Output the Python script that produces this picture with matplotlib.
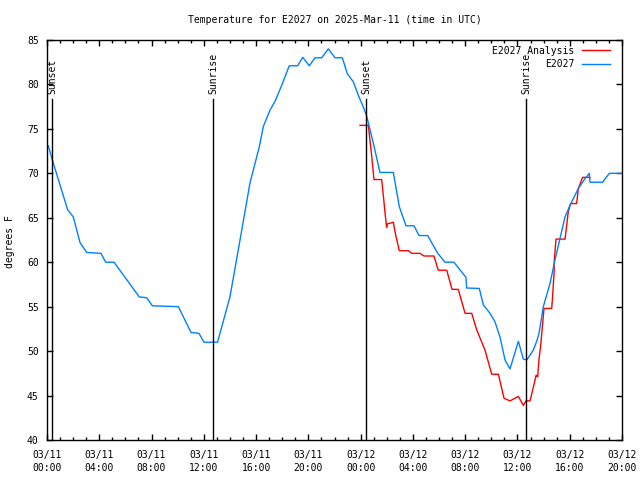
import matplotlib
matplotlib.use("Agg")
import matplotlib.pyplot as plt
import matplotlib.dates as mdates
from matplotlib.ticker import MultipleLocator
import datetime as dt
import numpy as np

# ---- data (hours since 2025-03-11 00:00 UTC) ----
obs_hours = [0.10, 0.41, 1.58, 2.01, 2.53, 3.04, 4.13, 4.49, 5.13, 7.06, 7.63, 8.06,
             10.05, 11.02, 11.63, 12.01, 13.05, 14.00, 14.77, 15.53, 16.25, 16.55,
             17.06, 17.45, 17.96, 18.54, 19.18, 19.57, 20.07, 20.51, 21.02, 21.53,
             22.04, 22.60, 22.98, 23.44, 23.82, 24.28, 24.46, 24.97, 25.48, 26.50,
             26.96, 27.47, 28.08, 28.47, 29.13, 29.90, 30.46, 31.14, 32.06, 32.11,
             33.08, 33.39, 33.90, 34.28, 34.66, 35.05, 35.43, 36.07, 36.45, 36.71,
             37.21, 37.47, 37.65, 37.98, 38.49, 38.87, 39.26, 39.64, 40.02, 40.66,
             41.17, 41.50, 41.55, 42.52, 43.03, 43.98]
obs_temps = [73.1, 71.5, 65.9, 65.1, 62.2, 61.1, 61.0, 60.0, 60.0, 56.1, 56.0, 55.1,
             55.0, 52.1, 52.0, 51.0, 51.0, 56.1, 62.5, 68.9, 73.0, 75.25,
             77.1, 78.1, 79.9, 82.1, 82.1, 83.05, 82.1, 83.0, 83.0, 84.0,
             83.0, 83.0, 81.2, 80.3, 78.8, 77.2, 76.45, 73.4, 70.1, 70.1,
             66.25, 64.1, 64.1, 63.0, 63.0, 61.0, 60.0, 60.0, 58.3, 57.1,
             57.05, 55.2, 54.25, 53.3, 51.6, 49.0, 48.0, 51.1, 49.1, 49.0,
             50.1, 51.1, 52.0, 55.0, 57.6, 60.25, 62.7, 65.1, 66.4, 68.3,
             69.4, 70.0, 69.0, 69.0, 70.0, 70.0]

ana_hours = [23.95, 24.59, 24.85, 25.02, 25.61, 25.73, 25.87, 25.99, 26.04, 26.50,
             26.68, 26.96, 27.65, 27.91, 28.54, 28.85, 29.61, 29.94, 30.59, 30.99,
             31.47, 31.99, 32.50, 32.88, 33.52, 34.03, 34.54, 34.97, 35.43, 36.07,
             36.45, 36.65, 36.96, 37.21, 37.43, 37.55, 37.64, 37.77, 38.03, 38.62,
             38.67, 38.80, 38.82, 38.95, 39.64, 39.89, 40.07, 40.53, 40.66, 40.99, 41.55]
ana_temps = [75.4, 75.4, 71.9, 69.3, 69.3, 67.6, 65.5, 63.9, 64.3, 64.5,
             63.06, 61.3, 61.3, 61.0, 61.0, 60.7, 60.7, 59.1, 59.1, 56.95,
             56.95, 54.25, 54.25, 52.4, 50.1, 47.4, 47.4, 44.7, 44.4, 44.9,
             43.9, 44.4, 44.4, 45.9, 47.3, 47.1, 49.0, 50.5, 54.8, 54.8,
             55.75, 58.75, 60.25, 62.6, 62.6, 65.7, 66.6, 66.6, 68.3, 69.55, 69.55]

events = ["Sunset", "Sunrise", "Sunset", "Sunrise"]
event_hours = [0.40, 12.72, 24.43, 36.67]

base = dt.datetime(2025, 3, 11)
b = mdates.date2num(base)
def tx(h):
    return b + np.asarray(h) / 24.0

plt.rcParams['font.family'] = ['DejaVu Sans Mono']
fs = 7

fig = plt.figure(figsize=(6.4, 4.8), dpi=100)
ax = fig.add_axes([47/640, 40/480, 575/640, 400/480])

ax.plot(tx(ana_hours), ana_temps, color='#ff0000', lw=1.0, label='E2027 Analysis')
ax.plot(tx(obs_hours), obs_temps, color='#0080ff', lw=1.0, label='E2027')

for name, h in zip(events, event_hours):
    ax.plot([tx(h), tx(h)], [40, 78.4], color='black', lw=1.0)
    ax.text(tx(h), 78.9, name, rotation=90, ha='center', va='bottom', fontsize=fs)

ax.set_xlim(tx(0), tx(44))
ax.set_ylim(40, 85)
ax.yaxis.set_major_locator(MultipleLocator(5))
ax.xaxis.set_major_locator(mdates.HourLocator(byhour=range(0, 24, 4)))
ax.xaxis.set_minor_locator(mdates.HourLocator())
ax.xaxis.set_major_formatter(mdates.DateFormatter('%m/%d\n%H:%M'))

ax.tick_params(which='both', direction='in', top=True, right=True, labelsize=fs, width=1.0)
ax.tick_params(which='major', length=4.5)
ax.tick_params(which='minor', length=2.5)
ax.tick_params(axis='x', pad=7)
ax.tick_params(axis='y', pad=6)
for lab in ax.get_xticklabels():
    lab.set_linespacing(1.45)
for s in ax.spines.values():
    s.set_linewidth(1.0)

ax.set_title('Temperature for E2027 on 2025-Mar-11 (time in UTC)', fontsize=fs, pad=12)
fig.text(10/640, 1 - 242/480, 'degrees F', rotation=90, ha='center', va='center', fontsize=fs)

leg = ax.legend(loc='upper right', bbox_to_anchor=(0.986, 0.995), frameon=False, fontsize=fs,
                markerfirst=False, handlelength=2.9, borderaxespad=0.0, labelspacing=0.34,
                handletextpad=0.8)

fig.savefig('out.png', dpi=100)
